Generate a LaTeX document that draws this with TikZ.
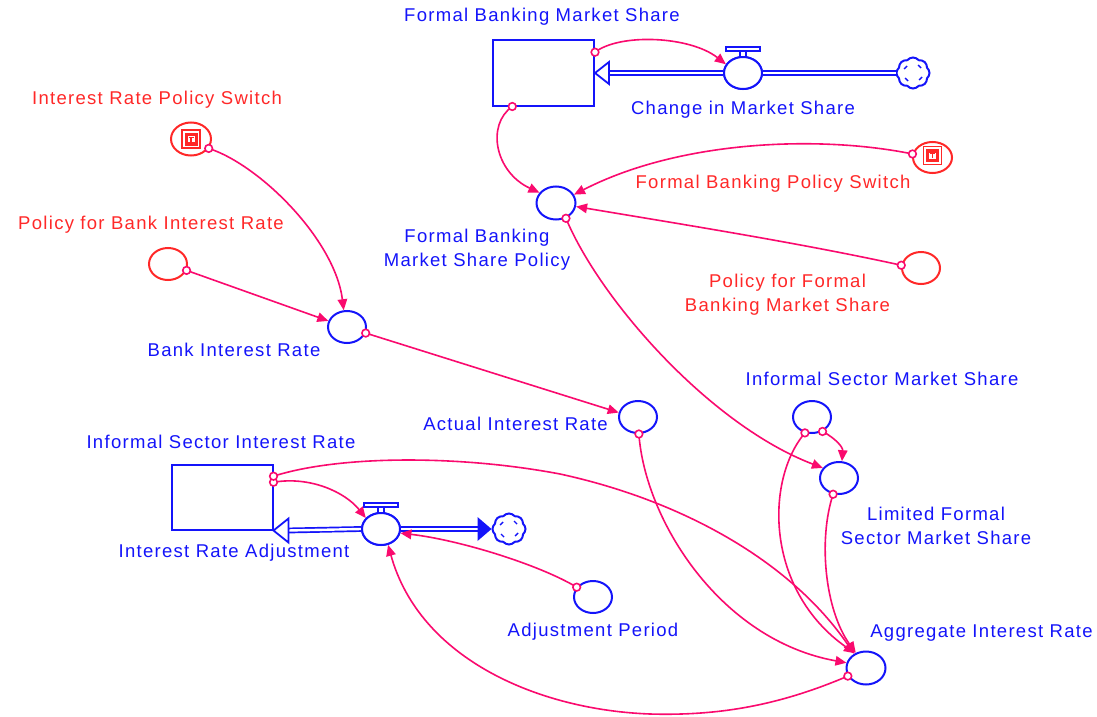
\documentclass[tikz,border=0pt]{standalone}
\usepackage{fontspec}
\newfontfamily\lbfamily{Liberation Sans}[LetterSpace=7]
\newcommand\lbfont{\lbfamily\fontsize{18.5}{24}\selectfont}
\usetikzlibrary{arrows.meta,shapes.geometric,shapes.symbols}
\definecolor{bluec}{RGB}{20,20,250}
\definecolor{redc}{RGB}{255,40,40}
\definecolor{pinkc}{RGB}{250,10,110}
\tikzset{
  aux/.style={ellipse, draw=bluec, fill=white, line width=2pt, minimum width=38pt, minimum height=32pt, inner sep=0pt},
  cst/.style={aux, draw=redc},
  stock/.style={rectangle, draw=bluec, fill=white, line width=2pt, minimum width=101pt, minimum height=65pt, inner sep=0pt},
  cloudnode/.style={cloud, cloud puffs=8, cloud puff arc=100, aspect=1.05, draw=bluec, fill=white, line width=2pt, minimum width=33pt, minimum height=31pt, inner sep=0pt},
  lbl/.style={text=bluec, font=\lbfont, inner sep=0pt, align=center},
  rlbl/.style={lbl, text=redc},
  conn/.style={draw=pinkc, line width=1.6pt, -{Triangle[length=11pt,width=9.5pt]}},
  mk/.style={draw=pinkc, line width=1.6pt, fill=white},
  pipe/.style={draw=bluec, line width=1.7pt, double=white, double distance=2.4pt},
  valvepart/.style={draw=bluec, fill=white, line width=1.7pt}
}
\newcommand\cloudmarks[1]{%
  \draw[bluec, line width=1.4pt] ([shift={(-9pt,4pt)}]#1) -- ([shift={(-6pt,7pt)}]#1);
  \draw[bluec, line width=1.4pt] ([shift={(5pt,8pt)}]#1) -- ([shift={(8pt,5pt)}]#1);
  \draw[bluec, line width=1.4pt] ([shift={(-8pt,-5pt)}]#1) -- ([shift={(-5pt,-8pt)}]#1);
  \draw[bluec, line width=1.4pt] ([shift={(6pt,-7pt)}]#1) -- ([shift={(9pt,-4pt)}]#1);}
\newcommand\switchicon[1]{%
  \draw[redc, line width=1.5pt, fill=white] ([shift={(-9pt,-9pt)}]#1) rectangle ([shift={(9pt,9pt)}]#1);
  \fill[redc] ([shift={(-6.5pt,-6.5pt)}]#1) rectangle ([shift={(6.5pt,6.5pt)}]#1);
  \fill[white] ([shift={(-3.5pt,-3pt)}]#1) rectangle ([shift={(3.5pt,3pt)}]#1);
  \draw[redc, line width=1.2pt] ([shift={(-2.5pt,1.8pt)}]#1) -- ([shift={(2.5pt,1.8pt)}]#1);
  \draw[redc, line width=1.2pt] ([shift={(0pt,1.8pt)}]#1) -- ([shift={(0pt,-2.5pt)}]#1);}
\newcommand\valvetop[1]{%
  \draw[valvepart] ([shift={(-3pt,-0.5pt)}]#1.north) rectangle ([shift={(3pt,5pt)}]#1.north);
  \draw[valvepart] ([shift={(-17pt,5pt)}]#1.north) rectangle ([shift={(17pt,9pt)}]#1.north);}
\begin{document}
\begin{tikzpicture}[x=1pt,y=-1pt]
\useasboundingbox[fill=white] (0,0) rectangle (1097,717);

% ---------- upper flow ----------
\node[stock] (fbms) at (543.5,73) {};
\node[cloudnode] (cloud1) at (913,73) {};
\node[aux] (cms) at (743,73) {};
\draw[pipe] (cloud1.west) -- (cms.east);
\draw[pipe] (cms.west) -- ([xshift=13pt]fbms.east);
\draw[draw=bluec, fill=white, line width=1.8pt] (fbms.east) -- ([shift={(14pt,11pt)}]fbms.east) -- ([shift={(14pt,-11pt)}]fbms.east) -- cycle;
\node[aux] at (cms) {};
\valvetop{cms}
\cloudmarks{cloud1.center}

% ---------- lower flow ----------
\node[stock] (isir) at (222,497) {};
\node[cloudnode] (cloud2) at (509,529) {};
\node[aux] (ira) at (381,529) {};
\draw[pipe] (ira.east) -- ([xshift=-13pt]cloud2.west);
\draw[pipe] (ira.west) -- ([xshift=14pt]isir.south east);
\fill[bluec] (cloud2.west) -- ([shift={(-14pt,12pt)}]cloud2.west) -- ([shift={(-14pt,-12pt)}]cloud2.west) -- cycle;
\draw[draw=bluec, fill=white, line width=1.8pt] (isir.south east) -- ([shift={(15pt,12pt)}]isir.south east) -- ([shift={(15pt,-12pt)}]isir.south east) -- cycle;
\node[aux] at (ira) {};
\valvetop{ira}
\cloudmarks{cloud2.center}

% ---------- variables ----------
\node[cst, minimum width=40pt, minimum height=33pt] (irps) at (191,139) {};
\switchicon{irps.center}
\node[cst, minimum width=39pt, minimum height=31pt] (fbps) at (932.5,157.5) {};
\coordinate (fbpsicon) at ([yshift=2pt]fbps.center);
\switchicon{fbpsicon}
\node[cst] (pbir) at (168,264) {};
\node[cst] (pfbms) at (921,268) {};
\node[aux] (bir) at (347,327) {};
\node[aux, minimum width=39pt, minimum height=33pt] (fbmsp) at (556,203) {};
\node[aux] (air) at (638,417) {};
\node[aux] (isms) at (812,417) {};
\node[aux] (lfsms) at (839,478) {};
\node[aux, minimum width=39pt, minimum height=33pt] (agg) at (866,668) {};
\node[aux] (ap) at (593,597) {};

% ---------- labels ----------
\node[lbl] (lfbms) at (542,17) {Formal Banking Market Share};
\node[lbl] (lcms) at (743,110) {Change in Market Share};
\node[rlbl] (lirps) at (157,100) {Interest Rate Policy Switch};
\node[rlbl] (lpbir) at (151,225) {Policy for Bank Interest Rate};
\node[lbl] (lbir) at (234,350) {Bank Interest Rate};
\node[lbl] (lfbmsp) at (477,250) {Formal Banking\\Market Share Policy};
\node[rlbl] (lfbps) at (773,184) {Formal Banking Policy Switch};
\node[rlbl] (lpfbms) at (787.5,295) {Policy for Formal\\Banking Market Share};
\node[lbl] (lair) at (515.5,424) {Actual Interest Rate};
\node[lbl] (lisms) at (882,379) {Informal Sector Market Share};
\node[lbl] (llfsms) at (936,526) {Limited Formal\\Sector Market Share};
\node[lbl] (lagg) at (981.5,633) {Aggregate Interest Rate};
\node[lbl] (lisir) at (221,442) {Informal Sector Interest Rate};
\node[lbl] (lira) at (234,553) {Interest Rate Adjustment};
\node[lbl] (lap) at (593,632) {Adjustment Period};

% ---------- connectors ----------
\draw[conn] (fbms.22) .. controls (620,33) and (690,36) .. (cms.153);
\draw[conn] (fbms.227) .. controls (486,125) and (495,172) .. (fbmsp.148);
\draw[conn] (fbps.170) .. controls (820,135) and (680,140) .. (fbmsp.25);
\draw[conn] (pfbms.172) .. controls (800,243) and (680,224) .. (fbmsp.-10);
\draw[conn] (fbmsp.-57) .. controls (600,300) and (710,425) .. (lfsms.148);
\draw[conn] (irps.-28) .. controls (260,165) and (335,240) .. (bir.101);
\draw[conn] (pbir.-19) -- (bir.162);
\draw[conn] (bir.-18) -- (air.167);
\draw[conn] (air.-87) .. controls (645,520) and (720,640) .. (agg.165);
\draw[conn] (isms.-54) .. controls (835,438) and (843,447) .. (lfsms.80);
\draw[conn] (isms.-114) .. controls (765,480) and (765,590) .. (agg.127);
\draw[conn] (lfsms.-110) .. controls (818,540) and (825,610) .. (agg.124);
\draw[conn] (isir.16) .. controls (310,476) and (345,492) .. (ira.144);
\draw[conn] (isir.22) .. controls (340,455) and (460,455) .. (560,474) .. controls (680,500) and (790,560) .. (agg.130);
\draw[conn] (ap.149) .. controls (540,565) and (460,540) .. (ira.-12);
\draw[conn] (agg.204) .. controls (780,705) and (720,716) .. (650,714) .. controls (540,710) and (420,660) .. (ira.-66);

% ---------- start markers ----------
\foreach \p in {fbms.22, fbms.227, fbps.170, pfbms.172, fbmsp.-57, irps.-28, pbir.-19, bir.-18, air.-87, isms.-54, isms.-114, lfsms.-110, isir.16, isir.22, ap.149, agg.204}
  \draw[mk] (\p) circle[radius=3.8];
\end{tikzpicture}
\end{document}
